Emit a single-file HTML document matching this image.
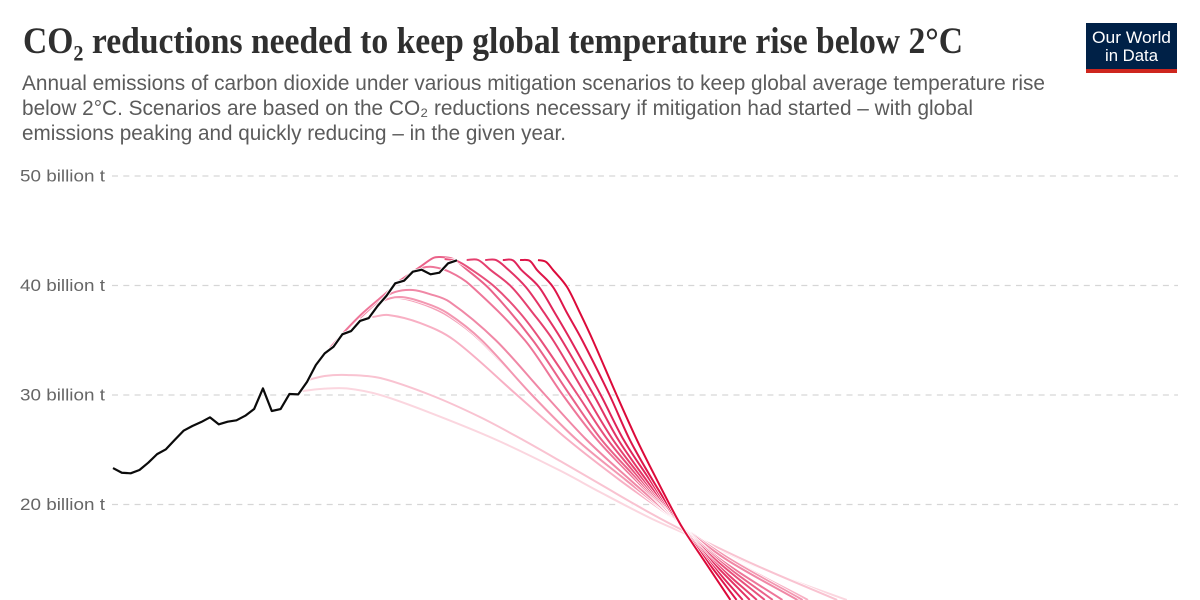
<!DOCTYPE html>
<html lang="en">
<head>
<meta charset="utf-8">
<title>CO₂ reductions needed to keep global temperature rise below 2°C</title>
<style>
  html, body { margin: 0; padding: 0; background: #fff; }
  body { width: 1200px; height: 600px; overflow: hidden; }
  svg { display: block; }
  .title { font-family: "Liberation Serif", serif; font-weight: 700; font-size: 37px; fill: #2f2f2f; }
  .sub { font-family: "Liberation Sans", sans-serif; font-size: 21px; fill: #5b5b5b; }
  .tick { font-family: "Liberation Sans", sans-serif; font-size: 17px; fill: #666; }
  .logo { font-family: "Liberation Sans", sans-serif; font-size: 17px; fill: #fff; text-anchor: middle; }
</style>
</head>
<body>
<svg id="chart" width="1200" height="600" viewBox="0 0 1200 600" xmlns="http://www.w3.org/2000/svg">
  <rect x="0" y="0" width="1200" height="600" fill="#fff"/>
  <text class="title" x="23" y="53" textLength="940" lengthAdjust="spacingAndGlyphs">CO₂ reductions needed to keep global temperature rise below 2°C</text>
  <text class="sub" x="22" y="90" textLength="1023" lengthAdjust="spacingAndGlyphs">Annual emissions of carbon dioxide under various mitigation scenarios to keep global average temperature rise</text>
  <text class="sub" x="22" y="115" textLength="951" lengthAdjust="spacingAndGlyphs">below 2°C. Scenarios are based on the CO₂ reductions necessary if mitigation had started – with global</text>
  <text class="sub" x="22" y="140" textLength="544" lengthAdjust="spacingAndGlyphs">emissions peaking and quickly reducing – in the given year.</text>
  <g>
    <rect x="1086" y="23" width="91" height="50" fill="#002147"/>
    <rect x="1086" y="69" width="91" height="4" fill="#ce261e"/>
    <text class="logo" x="1131.5" y="43" textLength="79" lengthAdjust="spacingAndGlyphs">Our World</text>
    <text class="logo" x="1131.5" y="61" textLength="53" lengthAdjust="spacingAndGlyphs">in Data</text>
  </g>
  <g id="grid"></g>
  <g id="scenarios"></g>
  <g id="history"></g>
</svg>
<script>
// ---- chart data (billion tonnes CO2) ----
const tickValues = [50, 40, 30, 20];
const tickLabels = ["50 billion t", "40 billion t", "30 billion t", "20 billion t"];

const historyStartYear = 1980;
const historyValues = [
  23.33, 22.9, 22.85, 23.15, 23.82, 24.6, 25.04, 25.9, 26.74, 27.17,
  27.53, 27.96, 27.32, 27.56, 27.69, 28.11, 28.72, 30.6, 28.54, 28.72,
  30.09, 30.06, 31.2, 32.74, 33.8, 34.41, 35.54, 35.84, 36.76, 37.03,
  38.13, 39.05, 40.2, 40.44, 41.26, 41.44, 41.02, 41.17, 42.03, 42.3
];

const descentLevels = [35, 30, 25.9, 22.2, 18.8, 17.5, 14.9, 11.28];

const scenarioNames = ["s2001a","s2001b","s2009","s2010","s2006","s2008","s2004","s2012","s2018","s2020","s2022","s2024","s2026","s2028"];

const scenarioRiseYears = [
  [2001.5,2004,2006.5,2010.3,2016,2023.5,2030.7,2035.2,2040.9,2045.2,2053.4,2063.2],
  [2002.1,2004,2006.5,2010.3,2016,2021.6,2026.5,2030.7,2035.2,2040.9,2045.2,2052.8,2062.1],
  [2009.4,2011.2,2014.8],
  [2009.1,2010.8,2012.5,2015.4,2018.2],
  [2006.3,2008,2010.3,2012.5,2015.4,2017.9],
  [2008,2010.3,2012,2014,2015.9,2018.2],
  [2004.6,2006.3,2008.2,2010.3,2013.7,2015,2016.3,2018.2,2020.5],
  [2012.3,2014.8,2016.3,2017.1,2018.6,2019.9,2022.8],
  [2017.6,2019,2020.7,2023.3,2026.15],
  [2020.1,2021.4,2022.8,2025.2,2027.6],
  [2022.2,2023.4,2024.6,2026.8,2028.9],
  [2024.2,2025.35,2026.3,2028.3,2030.1],
  [2026.15,2027.28,2028.07,2029.89,2031.48],
  [2028.19,2029.1,2029.89,2031.48,2032.95]
];
const scenarioRiseValues = [
  [30.37,30.58,30.6,30,28.36,25.89,23.09,21.14,18.77,17.22,14.2,11.28],
  [31.37,31.74,31.83,31.55,30,27.99,25.89,23.97,21.87,19.22,17.4,14.48,11.28],
  [37.12,37.31,36.58],
  [37.95,38.68,38.86,38.22,37.12],
  [35.75,37.21,38.49,38.95,38.4,37.49],
  [37.03,38.68,39.41,39.59,39.22,38.49],
  [34.29,35.84,37.4,38.86,41.14,41.6,41.69,41.23,40.05],
  [40.32,41.69,42.51,42.6,42.42,41.6,39.59],
  [42.42,42.24,41.42,39.86,37.49],
  [42.33,42.33,41.42,39.86,37.49],
  [42.33,42.33,41.6,39.86,37.49],
  [42.33,42.3,41.42,39.86,37.49],
  [42.33,42.24,41.42,39.86,37.49],
  [42.33,42.15,41.42,39.86,37.49]
];
// years at which each scenario reaches descentLevels (empty: fully listed above)
const scenarioDescentYears = [
  [],
  [],
  [2018.7,2025.8,2031.6,2037.5,2043.4,2045.4,2050.3,2058.8],
  [2021.6,2027.5,2032.5,2038.1,2043.5,2045.4,2050,2057.9],
  [2021.8,2027.5,2032.6,2038.2,2043.5,2045.4,2050.2,2058.2],
  [2023.4,2029,2033.7,2038.7,2043.5,2045.3,2049.7,2057.6],
  [2026.7,2031,2034.9,2039.3,2043.6,2045.2,2049,2055.9],
  [2027.6,2031.8,2035.4,2039.6,2043.6,2045.2,2048.7,2054.8],
  [2028.5,2032.7,2036.1,2039.9,2043.6,2045.1,2048.4,2053.9],
  [2029.9,2033.6,2036.7,2040.2,2043.7,2045.1,2048,2053],
  [2030.9,2034.5,2037.3,2040.5,2043.7,2045,2047.8,2052.2],
  [2031.9,2035.3,2037.9,2040.9,2043.7,2045,2047.5,2051.4],
  [2033.2,2036.3,2038.6,2041.2,2043.8,2044.9,2047.3,2050.7],
  [2034.4,2037.1,2039.4,2041.7,2043.9,2044.85,2047,2050]
];

// ---- appearance ----
const scenarioColors = ["#fbd6df","#f9c3d1","#f8b0c4","#f5a0b8","#f397b1","#f088a6","#ee7699","#ea6289","#e8507b","#e5406f","#e33365","#e0255a","#de164a","#dc0a3a"];
const svgNS = "http://www.w3.org/2000/svg";

// ---- axis functions ----
function xScale(year) { return 113 + (year - 1980) * 8.82; }
function yScale(value) { return 285.5 - (value - 40) * 10.95; }

// ---- cubic path through data points using finite-difference tangents ----
function smoothPath(pts) {
  const n = pts.length;
  const t = [];
  for (let i = 0; i < n; i++) {
    const a = pts[Math.max(0, i - 1)];
    const b = pts[Math.min(n - 1, i + 1)];
    t.push((b[1] - a[1]) / (b[0] - a[0]));
  }
  let d = "M" + pts[0][0].toFixed(2) + " " + pts[0][1].toFixed(2);
  for (let i = 0; i < n - 1; i++) {
    const h = (pts[i + 1][0] - pts[i][0]) / 3;
    d += "C" + (pts[i][0] + h).toFixed(2) + " " + (pts[i][1] + h * t[i]).toFixed(2) + " " +
         (pts[i + 1][0] - h).toFixed(2) + " " + (pts[i + 1][1] - h * t[i + 1]).toFixed(2) + " " +
         pts[i + 1][0].toFixed(2) + " " + pts[i + 1][1].toFixed(2);
  }
  return d;
}

// ---- grid + tick labels ----
const gridGroup = document.getElementById("grid");
tickValues.forEach(function (value, i) {
  const line = document.createElementNS(svgNS, "line");
  
  
  line.setAttribute("x1", 112);
  line.setAttribute("x2", 1178);
  line.setAttribute("y1", yScale(value));
  line.setAttribute("y2", yScale(value));
  line.setAttribute("stroke", "#d6d6d6");
  line.setAttribute("stroke-width", "1.2");
  line.setAttribute("stroke-dasharray", "6 5.3");
  gridGroup.appendChild(line);

  const label = document.createElementNS(svgNS, "text");
  
  
  label.setAttribute("class", "tick");
  label.setAttribute("x", 20);
  label.setAttribute("y", yScale(value) + 5.5);
  label.setAttribute("textLength", 85);
  label.setAttribute("lengthAdjust", "spacingAndGlyphs");
  label.textContent = tickLabels[i];
  gridGroup.appendChild(label);
});

// ---- scenario lines ----
const scenarioGroup = document.getElementById("scenarios");
scenarioNames.forEach(function (name, i) {
  const pts = [];
  scenarioRiseYears[i].forEach(function (year, j) {
    pts.push([xScale(year), yScale(scenarioRiseValues[i][j])]);
  });
  scenarioDescentYears[i].forEach(function (year, j) {
    pts.push([xScale(year), yScale(descentLevels[j])]);
  });
  const d = smoothPath(pts);

  const halo = document.createElementNS(svgNS, "path");
  
  
  halo.setAttribute("d", d);
  halo.setAttribute("fill", "none");
  halo.setAttribute("stroke", "#fff");
  halo.setAttribute("stroke-width", "3.4");
  scenarioGroup.appendChild(halo);

  const path = document.createElementNS(svgNS, "path");
  
  
  path.setAttribute("d", d);
  path.setAttribute("fill", "none");
  path.setAttribute("stroke", scenarioColors[i]);
  path.setAttribute("stroke-width", "2");
  scenarioGroup.appendChild(path);
});

// ---- historical line ----
const historyGroup = document.getElementById("history");
const historyPoints = historyValues.map(function (value, i) {
  return xScale(historyStartYear + i).toFixed(2) + "," + yScale(value).toFixed(2);
}).join(" ");
const historyHalo = document.createElementNS(svgNS, "polyline");


historyHalo.setAttribute("points", historyPoints);
historyHalo.setAttribute("fill", "none");
historyHalo.setAttribute("stroke", "#fff");
historyHalo.setAttribute("stroke-width", "3.8");
historyGroup.appendChild(historyHalo);
const historyLine = document.createElementNS(svgNS, "polyline");


historyLine.setAttribute("points", historyPoints);
historyLine.setAttribute("fill", "none");
historyLine.setAttribute("stroke", "#0b0b0b");
historyLine.setAttribute("stroke-width", "2.2");
historyLine.setAttribute("stroke-linejoin", "round");
historyGroup.appendChild(historyLine);
</script>
</body>
</html>
